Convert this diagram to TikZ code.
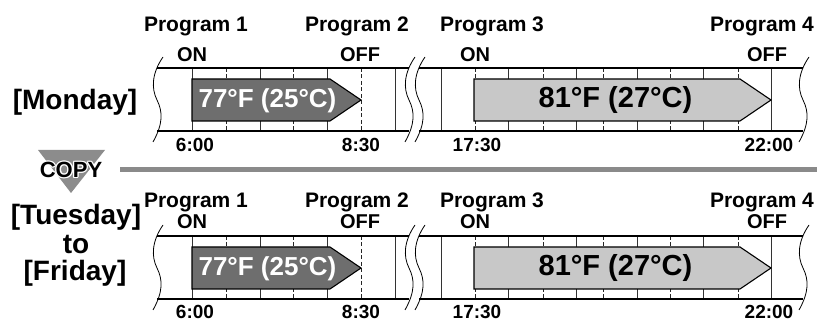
\documentclass[tikz,border=0pt]{standalone}
\usepackage{fontspec}
\setmainfont{Liberation Sans}
\definecolor{darkbar}{HTML}{6E6E6E}
\definecolor{lightbar}{HTML}{C8C8C8}
\definecolor{sepgray}{HTML}{8A8A8A}
\definecolor{trigray}{HTML}{8C8C8C}
\tikzset{
  prog/.style={font=\bfseries\fontsize{21}{21}\selectfont, inner sep=0pt, anchor=base},
  onoff/.style={font=\bfseries\fontsize{20}{20}\selectfont, inner sep=0pt, anchor=base},
  tm/.style={font=\bfseries\fontsize{19}{19}\selectfont, inner sep=0pt, anchor=base},
  daylbl/.style={font=\bfseries\fontsize{28}{28}\selectfont, inner sep=0pt},
  border/.style={line width=1.1pt},
  tick/.style={line width=0.8pt, black!80},
  dtick/.style={line width=0.8pt, black!85, dash pattern=on 4pt off 2.5pt},
  brk/.style={line width=0.8pt},
  bar/.style={draw=black, line width=1.1pt},
  bartxt/.style={font=\bfseries\fontsize{26}{26}\selectfont, inner sep=0pt},
  copytxt/.style={font=\bfseries\fontsize{22}{22}\selectfont, inner sep=0pt},
}
\newcommand{\wavebreak}[2]{%
  \draw[brk] (#1+9,#2-11) .. controls (#1-2,#2+5) and (#1-3,#2+20) .. (#1+3,#2+32)
     .. controls (#1+9,#2+44) and (#1+9,#2+56) .. (#1-1,#2+74);
}
\newcommand{\dayrow}[5]{%
  \pgfmathsetmacro{\Yt}{#1}
  \pgfmathsetmacro{\Yb}{#1+63}
  \pgfmathsetmacro{\Ym}{#1+32}
  \pgfmathsetmacro{\Ya}{#1+11}
  \pgfmathsetmacro{\Yc}{#1+53}
  \foreach \x in {192,260,327,395,441,508,576,637,703,771}
    \draw[tick] (\x,\Yt) -- (\x,\Yb);
  \foreach \x in {226,293,361,475,543,603,670,738}
    \draw[dtick] (\x,\Yt) -- (\x,\Yb);
  \draw[border] (157,\Yt) -- (409,\Yt) (157,\Yb) -- (409,\Yb)
                (419,\Yt) -- (803,\Yt) (419,\Yb) -- (803,\Yb);
  \wavebreak{154}{\Yt}
  \wavebreak{406}{\Yt}
  \wavebreak{416}{\Yt}
  \wavebreak{800}{\Yt}
  \draw[bar, fill=darkbar] (192,\Ya) -- (330,\Ya) -- (361,\Ym) -- (330,\Yc) -- (192,\Yc) -- cycle;
  \draw[bar, fill=lightbar] (474,\Ya) -- (740,\Ya) -- (771,\Ym) -- (740,\Yc) -- (474,\Yc) -- cycle;
  \node[bartxt, text=white] (t1#5) at (267.5,\Ym+1) {77°F (25°C)};
  \node[bartxt, font=\bfseries\fontsize{29}{29}\selectfont] (t2#5) at (615.5,\Ym) {81°F (27°C)};
  \node[prog] (p1#5) at (196,#2) {Program 1};
  \node[prog] (p2#5) at (357,#2) {Program 2};
  \node[prog] (p3#5) at (492,#2) {Program 3};
  \node[prog] (p4#5) at (762,#2) {Program 4};
  \node[onoff] (on1#5) at (192,#3) {ON};
  \node[onoff] (off1#5) at (360,#3) {OFF};
  \node[onoff] (on2#5) at (475,#3) {ON};
  \node[onoff] (off2#5) at (767,#3) {OFF};
  \node[tm] (s1#5) at (195,#4) {6:00};
  \node[tm] (e1#5) at (361,#4) {8:30};
  \node[tm] (s2#5) at (477,#4) {17:30};
  \node[tm] (e2#5) at (769,#4) {22:00};
}
\begin{document}
\begin{tikzpicture}[x=1pt,y=-1pt]
\useasboundingbox (0,0) rectangle (817,320);
\dayrow{68}{32}{62}{152}{a}
\dayrow{236}{208}{229}{318.5}{b}
% day labels
\node[daylbl] (mon) at (75,102) {[Monday]};
\node[daylbl] (tue) at (76,217) {[Tuesday]};
\node[daylbl] (to) at (76,245) {to};
\node[daylbl] (fri) at (75,273) {[Friday]};
% separator and COPY
\draw[sepgray, line width=4.5pt] (120,169.5) -- (817,169.5);
\fill[trigray] (38,150) -- (105,150) -- (71,193) -- cycle;
\foreach \dx/\dy in {1.3/0,-1.3/0,0/1.3,0/-1.3,0.9/0.9,-0.9/0.9,0.9/-0.9,-0.9/-0.9}
  \node[copytxt, text=white] at (71+\dx,170+\dy) {COPY};
\node[copytxt] (copy) at (71,170) {COPY};
\end{tikzpicture}
\end{document}
